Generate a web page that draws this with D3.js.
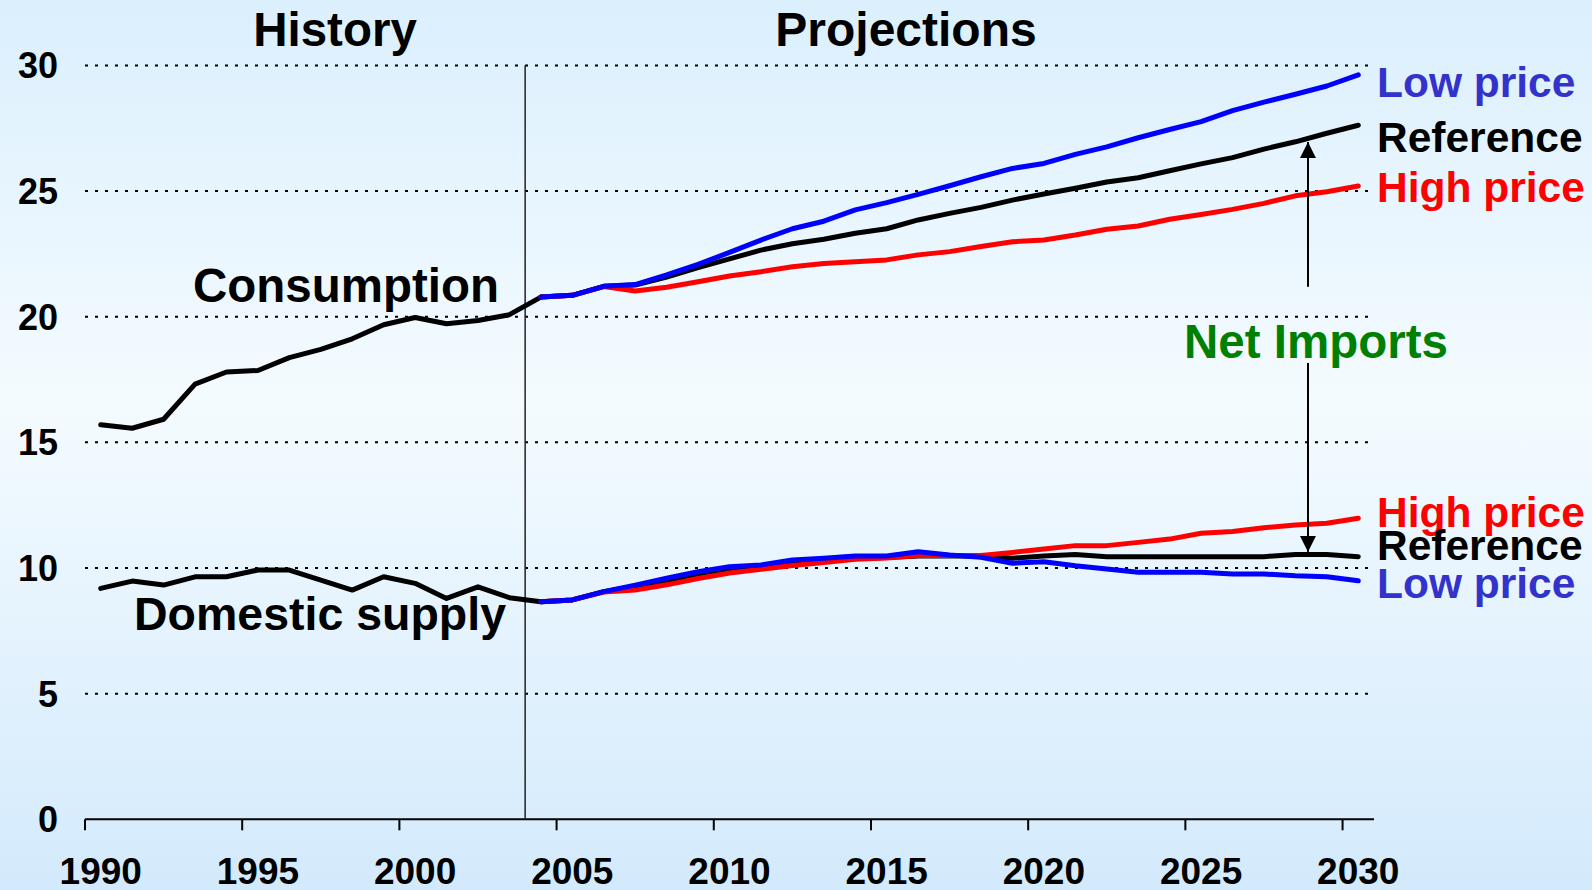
<!DOCTYPE html>
<html>
<head>
<meta charset="utf-8">
<script src="https://cdn.jsdelivr.net/npm/d3@7"></script>
<style>
  html, body { margin: 0; padding: 0; }
  svg { display: block; }
  text { font-family: "Liberation Sans", Arial, sans-serif; font-weight: bold; }
</style>
</head>
<body>
<svg id="chart" width="1592" height="890"></svg>
<script>
// ---------- data ----------
const historyYears = [1990,1991,1992,1993,1994,1995,1996,1997,1998,1999,2000,2001,2002,2003,2004];
const projYears = [2004,2005,2006,2007,2008,2009,2010,2011,2012,2013,2014,2015,2016,2017,2018,2019,2020,2021,2022,2023,2024,2025,2026,2027,2028,2029,2030];

const consumptionHistory = [15.70,15.56,15.92,17.32,17.80,17.86,18.37,18.70,19.12,19.68,19.97,19.72,19.85,20.08,20.78];
const consumptionReference = [20.78,20.85,21.21,21.26,21.58,21.95,22.30,22.65,22.90,23.08,23.32,23.50,23.85,24.11,24.35,24.64,24.88,25.11,25.36,25.53,25.81,26.08,26.33,26.67,26.96,27.30,27.62];
const consumptionHigh = [20.78,20.85,21.20,21.02,21.17,21.39,21.62,21.79,21.99,22.12,22.19,22.26,22.46,22.59,22.79,22.98,23.05,23.25,23.48,23.61,23.88,24.07,24.27,24.51,24.81,24.97,25.20];
const consumptionLow = [20.78,20.85,21.21,21.28,21.66,22.08,22.56,23.05,23.50,23.80,24.25,24.54,24.87,25.21,25.57,25.90,26.10,26.46,26.76,27.12,27.45,27.76,28.20,28.54,28.85,29.18,29.62];

const supplyHistory = [9.19,9.48,9.32,9.65,9.65,9.92,9.92,9.52,9.12,9.65,9.39,8.79,9.25,8.82,8.66];
const supplyReference = [8.66,8.73,9.06,9.28,9.50,9.75,9.95,10.05,10.20,10.30,10.38,10.42,10.48,10.48,10.48,10.39,10.48,10.54,10.45,10.45,10.45,10.45,10.45,10.45,10.54,10.54,10.45];
const supplyHigh = [8.66,8.73,9.04,9.12,9.33,9.58,9.80,9.95,10.10,10.22,10.35,10.40,10.50,10.50,10.50,10.62,10.76,10.89,10.89,11.02,11.15,11.38,11.45,11.60,11.71,11.78,11.98];
const supplyLow = [8.66,8.73,9.06,9.32,9.59,9.85,10.05,10.12,10.32,10.39,10.48,10.48,10.65,10.52,10.43,10.19,10.25,10.09,9.96,9.83,9.83,9.83,9.76,9.76,9.69,9.65,9.49];

const yTicks = [0,5,10,15,20,25,30];
const xTickLabels = [1990,1995,2000,2005,2010,2015,2020,2025,2030];
const historyEnd = 2003.5;
const arrowYear = 2028.4;
const arrowUpper = [21.19, 26.95];   // from, to (value units)
const arrowLower = [18.16, 10.64];

// ---------- layout ----------
const svg = d3.select("#chart");
const W = 1592, H = 890;
const plotLeft = 85, plotRight = 1374, plotTop = 65.4, plotBottom = 819.3;

const x = d3.scaleLinear().domain([1989.5, 2030.5]).range([plotLeft, plotRight]);
const y = d3.scaleLinear().domain([0, 30]).range([plotBottom, plotTop]);

// background gradient
const defs = svg.append("defs");
const grad = defs.append("linearGradient").attr("id","bg").attr("x1",0).attr("y1",0).attr("x2",0).attr("y2",1);
grad.append("stop").attr("offset","0%").attr("stop-color","#dbeffd");
grad.append("stop").attr("offset","45%").attr("stop-color","#f4fbff");
grad.append("stop").attr("offset","100%").attr("stop-color","#d3eafc");
svg.append("rect").attr("width",W).attr("height",H).attr("fill","url(#bg)");

const marker = defs.append("marker").attr("id","arrow")
  .attr("viewBox","0 0 10 10").attr("refX",10).attr("refY",5)
  .attr("markerWidth",8).attr("markerHeight",8).attr("markerUnits","strokeWidth")
  .attr("orient","auto");
marker.append("path").attr("d","M0,0 L10,5 L0,10 Z").attr("fill","#000");

// gridlines
svg.append("g").selectAll("line").data(yTicks.filter(d => d > 0)).join("line")
  .attr("x1", x(1989.5)).attr("x2", x(2030.5))
  .attr("y1", d => y(d)).attr("y2", d => y(d))
  .attr("stroke","#000").attr("stroke-width",2).attr("stroke-dasharray","3,7");

// y labels
svg.append("g").selectAll("text").data(yTicks).join("text")
  .attr("x", 58).attr("y", d => y(d)).attr("dy","0.36em")
  .attr("text-anchor","end").attr("font-size",36).attr("fill","#000")
  .text(d => d);

// x axis
const xAxisG = svg.append("g");
xAxisG.append("line").attr("x1", x(1989.5)).attr("x2", x(2030.5))
  .attr("y1", y(0)).attr("y2", y(0)).attr("stroke","#000").attr("stroke-width",2);
xAxisG.selectAll("line.tick").data(xTickLabels).join("line").attr("class","tick")
  .attr("x1", d => x(d - 0.5)).attr("x2", d => x(d - 0.5))
  .attr("y1", y(0)).attr("y2", y(0) + 11).attr("stroke","#000").attr("stroke-width",2);
xAxisG.selectAll("text").data(xTickLabels).join("text")
  .attr("x", d => x(d)).attr("y", 884).attr("text-anchor","middle")
  .attr("font-size",37).attr("fill","#000").text(d => d);

// history / projections divider
svg.append("line").attr("x1", x(historyEnd)).attr("x2", x(historyEnd))
  .attr("y1", y(30)).attr("y2", y(0)).attr("stroke","#222").attr("stroke-width",1.5);

// lines
const line = d3.line().x(d => x(d[0])).y(d => y(d[1]));
function drawSeries(years, vals, color) {
  svg.append("path").datum(years.map((yr, i) => [yr, vals[i]]))
    .attr("d", line).attr("fill","none").attr("stroke", color)
    .attr("stroke-width",5).attr("stroke-linejoin","round").attr("stroke-linecap","round");
}
drawSeries(historyYears, consumptionHistory, "#000");
drawSeries(historyYears, supplyHistory, "#000");
drawSeries(projYears, consumptionReference, "#000");
drawSeries(projYears, supplyReference, "#000");
drawSeries(projYears, consumptionHigh, "#ff0000");
drawSeries(projYears, supplyHigh, "#ff0000");
drawSeries(projYears, consumptionLow, "#0000ff");
drawSeries(projYears, supplyLow, "#0000ff");

// arrows
[arrowUpper, arrowLower].forEach(a => {
  svg.append("line").attr("x1", x(arrowYear)).attr("x2", x(arrowYear))
    .attr("y1", y(a[0])).attr("y2", y(a[1]))
    .attr("stroke","#000").attr("stroke-width",2).attr("marker-end","url(#arrow)");
});

// text annotations
function label(txt, xp, yp, size, color, anchor) {
  svg.append("text").attr("x", xp).attr("y", yp).attr("font-size", size)
    .attr("fill", color).attr("text-anchor", anchor || "start").text(txt);
}
label("History", 335, 46, 47.5, "#000", "middle");
label("Projections", 906, 46, 48, "#000", "middle");
label("Consumption", 346, 302, 47.5, "#000", "middle");
label("Domestic supply", 320, 630, 46.5, "#000", "middle");
label("Net Imports", 1316, 358, 47.5, "#008000", "middle");

const lx = x(2030.5) + 3;
label("Low price", lx, 97, 42.5, "#3333cc");
label("Reference", lx, 152, 42.5, "#000");
label("High price", lx, 202, 42.5, "#ff0000");
label("High price", lx, 527, 42.5, "#ff0000");
label("Reference", lx, 560, 42.5, "#000");
label("Low price", lx, 598, 42.5, "#3333cc");
</script>
</body>
</html>
